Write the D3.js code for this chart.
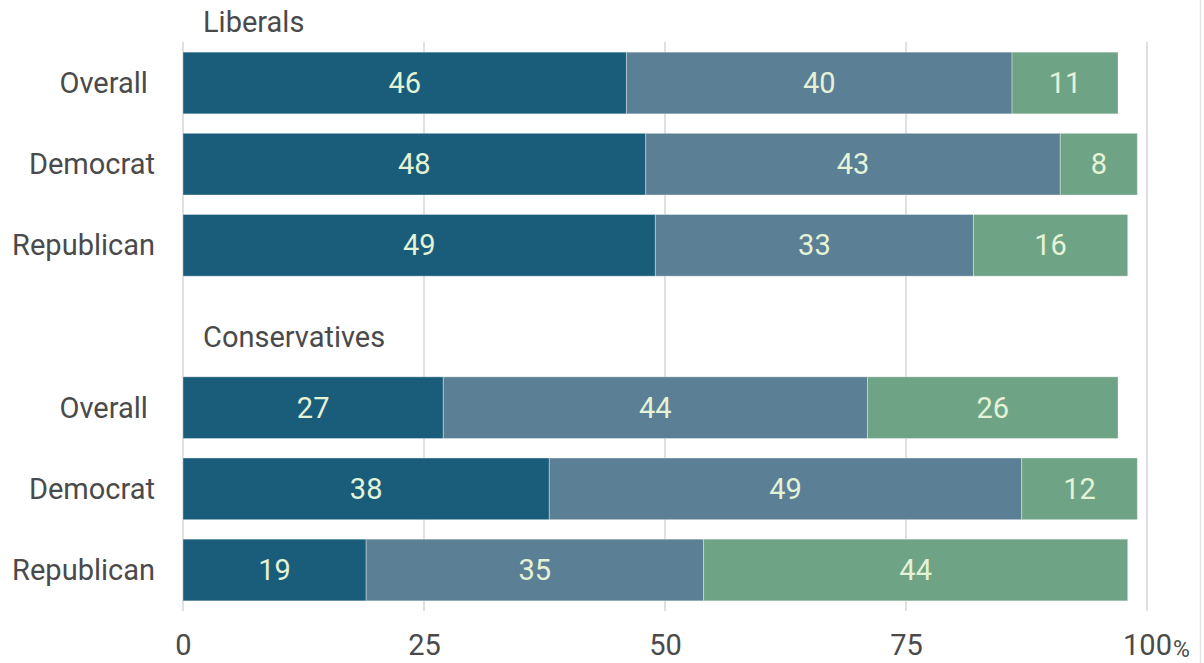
<!DOCTYPE html>
<html>
<head>
<meta charset="utf-8">
<script src="https://cdn.jsdelivr.net/npm/d3@7"></script>
<style>
  html, body { margin: 0; padding: 0; background: #fff; }
  svg { display: block; font-family: Roboto, "Noto Sans", sans-serif; }
</style>
</head>
<body>
<svg id="chart" width="1204" height="663"></svg>
<script>
// ---- data ----
const groups = ["Liberals", "Conservatives"];
const rowLabels = ["Overall ", "Democrat", "Republican"];
const seriesNames = ["first", "second", "third"];
const firstValues  = [46, 48, 49, 27, 38, 19];
const secondValues = [40, 43, 33, 44, 49, 35];
const thirdValues  = [11, 8, 16, 26, 12, 44];
const tickValues = [0, 25, 50, 75, 100];
const tickLabels = ["0", "25", "50", "75", "100"];
const colors = ["#1a5d7b", "#5b7f95", "#6fa386"];

// ---- build rows ----
const rows = [];
groups.forEach((g, gi) => {
  rowLabels.forEach((r, ri) => {
    const i = gi * rowLabels.length + ri;
    rows.push({ key: g + "|" + r, group: g, label: r,
      values: [firstValues[i], secondValues[i], thirdValues[i]] });
  });
});
const slots = [rows[0].key, rows[1].key, rows[2].key, "gap", rows[3].key, rows[4].key, rows[5].key];

const svg = d3.select("#chart");
const x = d3.scaleLinear().domain([0, 100]).range([183, 1147]);
const y = d3.scaleBand().domain(slots).range([42, 611]).paddingInner(0.24).paddingOuter(0.125);

const textColor = "#4a4a4a";
const fs = 29;

// frame line at right
svg.append("line").attr("x1", 1200.5).attr("x2", 1200.5).attr("y1", 0).attr("y2", 663)
  .attr("stroke", "#e3e3e3").attr("stroke-width", 1.5);

// gridlines
svg.append("g").selectAll("line").data(tickValues).join("line")
  .attr("x1", d => x(d)).attr("x2", d => x(d))
  .attr("y1", 42).attr("y2", 611)
  .attr("stroke", "#d9d9d9").attr("stroke-width", 1.6);

// bars
const stackData = rows.map(r => {
  let acc = 0;
  return r.values.map((v, si) => { const s = { row: r, x0: acc, x1: acc + v, v, si }; acc += v; return s; });
}).flat();

svg.append("g").selectAll("rect").data(stackData).join("rect")
  .attr("x", d => x(d.x0)).attr("width", d => x(d.x1) - x(d.x0))
  .attr("y", d => y(d.row.key)).attr("height", y.bandwidth())
  .attr("fill", d => colors[d.si])
  .attr("stroke", "rgba(255,255,255,0.35)").attr("stroke-width", 1);

svg.append("g").selectAll("text").data(stackData).join("text")
  .attr("x", d => x((d.x0 + d.x1) / 2))
  .attr("y", d => y(d.row.key) + y.bandwidth() / 2)
  .attr("dy", "0.35em")
  .attr("text-anchor", "middle")
  .attr("font-size", fs)
  .attr("fill", "#e4f3d6")
  .text(d => d.v);

// category labels
svg.append("g").selectAll("text").data(rows).join("text")
  .attr("x", 155)
  .attr("y", d => y(d.key) + y.bandwidth() / 2)
  .attr("dy", "0.35em")
  .attr("text-anchor", "end")
  .attr("font-size", fs)
  .attr("fill", textColor)
  .style("white-space", "pre")
  .text(d => d.label);

// group titles
const titleOffsets = [20, 30];
svg.append("g").selectAll("text").data(groups).join("text")
  .attr("x", 203)
  .attr("y", (g, gi) => y(rows[gi * rowLabels.length].key) - titleOffsets[gi])
  .attr("font-size", fs)
  .attr("fill", textColor)
  .text(g => g);

// x axis labels
const axis = d3.axisBottom(x).tickValues(tickValues).tickFormat((d, i) => tickLabels[i]).tickSize(0).tickPadding(0);
const ag = svg.append("g").call(axis);
ag.select(".domain").remove();
ag.selectAll("text")
  .attr("y", 655).attr("dy", null)
  .attr("font-size", fs).attr("font-family", "Roboto, sans-serif")
  .attr("fill", textColor);
// percent sign after the last tick
svg.append("text")
  .attr("x", x(100) + 26).attr("y", 657)
  .attr("font-size", 23).attr("fill", textColor)
  .text("%");
</script>
</body>
</html>
